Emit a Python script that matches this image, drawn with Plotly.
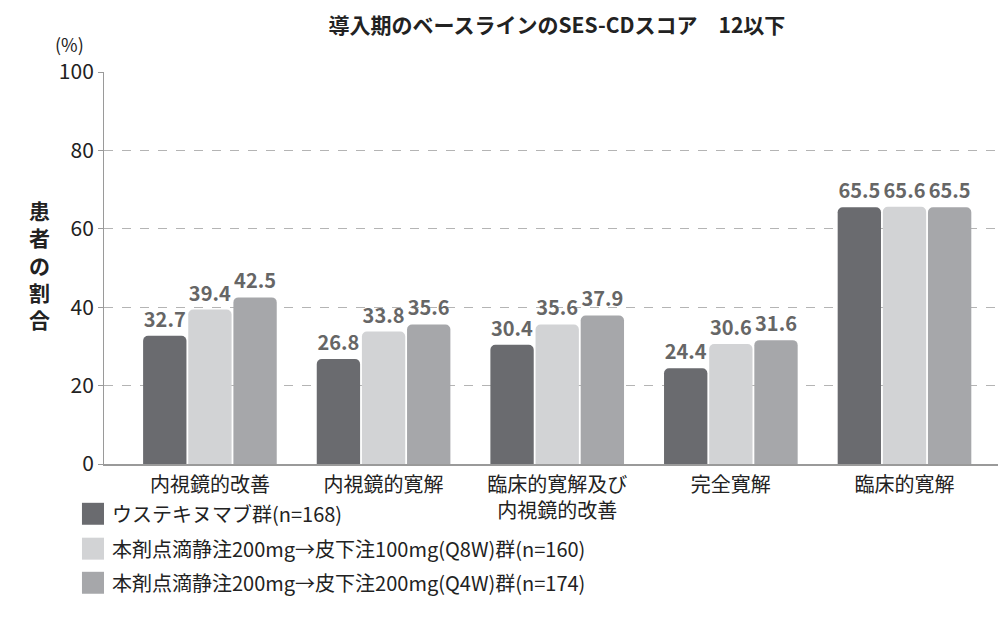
import plotly.graph_objects as go

categories = ["内視鏡的改善", "内視鏡的寛解", "臨床的寛解及び<br>内視鏡的改善", "完全寛解", "臨床的寛解"]
series_names = [
    "ウステキヌマブ群(n=168)",
    "本剤点滴静注200mg→皮下注100mg(Q8W)群(n=160)",
    "本剤点滴静注200mg→皮下注200mg(Q4W)群(n=174)",
]
ustekinumab = [32.7, 26.8, 30.4, 24.4, 65.5]
q8w = [39.4, 33.8, 35.6, 30.6, 65.6]
q4w = [42.5, 35.6, 37.9, 31.6, 65.5]
y_ticks = [0, 20, 40, 60, 80, 100]

colors = ["#6a6b6f", "#d2d3d5", "#a6a7aa"]
FONT = "Noto Sans CJK JP"

fig = go.Figure()
for name, vals, col in zip(series_names, [ustekinumab, q8w, q4w], colors):
    fig.add_trace(go.Bar(
        x=categories, y=vals, name=name, marker=dict(color=col, line=dict(width=0)),
        texttemplate="<b>%{y:.1f}</b>", textposition="outside", constraintext="none",
        textfont=dict(family=FONT, size=20, color="#666666"),
        cliponaxis=False, showlegend=False,
    ))

fig.update_layout(
    width=998, height=614,
    margin=dict(l=96, r=6, t=64, b=158),
    paper_bgcolor="white", plot_bgcolor="white",
    barmode="group", bargap=0.22, bargroupgap=0.04,
    barcornerradius=5,
    font=dict(family=FONT, color="#222222"),
    title=dict(text="<b>導入期のベースラインのSES-CDスコア　12以下</b>",
               x=0.55, xanchor="center", y=0.972, yanchor="middle",
               font=dict(size=21, color="#222222", family=FONT)),
    xaxis=dict(range=[-0.61, 4.55], showgrid=False, showline=True, linecolor="#9a9a9a",
               linewidth=2, tickfont=dict(size=20, color="#222222"), ticks="",
               ticklabelstandoff=2),
    yaxis=dict(range=[0, 100], tickvals=y_ticks, showgrid=True, griddash="dash",
               gridcolor="#b4b4b4", gridwidth=1, showline=True, linecolor="#9a9a9a",
               linewidth=1, ticks="outside", ticklen=5, tickcolor="#9a9a9a",
               tickfont=dict(size=21, color="#222222"), zeroline=False),
)

# y-axis title (vertical stacked characters) and unit
fig.add_annotation(text="<b>患<br>者<br>の<br>割<br>合</b>", xref="paper", yref="paper",
                   x=-0.086, y=0.508, showarrow=False, font=dict(size=21, color="#222222"),
                   align="center")
fig.add_annotation(text="(%)", xref="paper", yref="paper", x=-0.038, y=1.072,
                   showarrow=False, font=dict(size=18, color="#222222"), xanchor="center",
                   yanchor="middle")

# custom legend
leg_y = [-0.127, -0.216, -0.303]
for name, col, yy in zip(series_names, colors, leg_y):
    fig.add_shape(type="rect", xref="paper", yref="paper",
                  x0=-0.0246, x1=0.0, y0=yy - 0.028, y1=yy + 0.028,
                  fillcolor=col, line=dict(width=0))
    fig.add_annotation(text=name, xref="paper", yref="paper", x=0.0067, y=yy,
                       xanchor="left", yanchor="middle", showarrow=False,
                       font=dict(size=20, color="#222222"))

fig.write_html("out.html")
